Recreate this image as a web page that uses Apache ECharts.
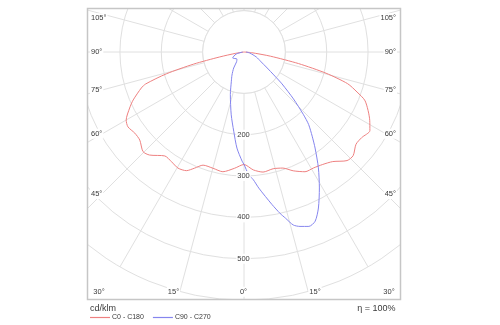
<!DOCTYPE html>
<html>
<head>
<meta charset="utf-8">
<script src="https://cdn.jsdelivr.net/npm/echarts@6/dist/echarts.min.js"></script>
<style>
  html, body { margin: 0; padding: 0; background: #fff; }
  #chart { width: 500px; height: 325px; }
</style>
</head>
<body>
<div id="chart"></div>
<script>
// Luminous intensity (cd/klm) against gamma angle (deg), one pair of arrays per C-plane half.
const gammaC0 = [0, 4.5, 9, 14, 18.5, 22.5, 27, 31, 35, 39, 43.5, 46.5, 50.5, 54, 58, 61.5, 68, 70.5, 73, 75.5, 78, 81, 85, 90];
const valueC0 = [272, 286, 294, 291, 296, 311, 325, 327, 332, 341, 362, 364, 351, 352, 359, 346, 316, 290, 262, 205, 135, 65, 18, 0];

const gammaC180 = [0, 4.6, 10, 14.9, 19.9, 23, 25.9, 29.6, 33.5, 37.3, 42.5, 45.4, 49.8, 53.4, 57.2, 60, 63.9, 66.6, 70.7, 72, 74.3, 76.5, 78.5, 81, 90];
const valueC180 = [272, 282, 294, 291, 291, 305, 319, 323, 318, 316, 338, 343, 330, 329, 334, 329, 308, 292, 263, 250, 195, 125, 60, 20, 0];

const gammaC90 = [0, 2.2, 4.2, 6.2, 10.4, 12.6, 14, 15.9, 17.8, 20.4, 22.8, 25.5, 29, 32.7, 36.5, 39, 41.7, 43.5, 46.5, 50, 52, 56, 60, 68, 80, 90];
const valueC90 = [272, 297, 310, 331, 375, 400, 414, 435, 443, 450, 444, 418, 376, 333, 289, 262, 235, 209, 165, 120, 95, 65, 48, 32, 14, 5];

const gammaC270 = [0, 1, 4.2, 7.4, 11.5, 17.8, 23.4, 27.5, 32.8, 37, 45, 62, 75, 90];
const valueC270 = [272, 264, 233, 193, 155, 108, 77, 63, 46, 30, 24, 31, 20, 3];

// Axis and annotation texts
const radiusTicks = [200, 300, 400, 500];
const sideAngleLabels = ['105°', '90°', '75°', '60°', '45°'];
const bottomAngleLabels = ['30°', '15°', '0°', '15°', '30°'];
const seriesNames = ['C0 - C180', 'C90 - C270'];
const unitLabel = 'cd/klm';
const efficiencyLabel = 'η = 100%';

// Layout of the frame and its edge labels (pixels)
const frame = { x: 87.5, y: 8.5, w: 313, h: 291 };
const sideLabelY = [18.3, 52.3, 90, 133.7, 194];
const bottomLabelX = [99, 173.5, 243.5, 315, 389];
const bottomLabelY = 291.7;
const innerRing = 100; // spokes start at this ring

const FONT = '"Liberation Sans", Arial, sans-serif';
const TEXT = '#3a3a3a';
const GRID = '#e0e0e0';
const COLORS = ['#ee8080', '#8585ee'];

// Join the two halves of a C-plane: left half runs 360-gamma, right half gamma.
function planeData(gLeft, vLeft, gRight, vRight) {
  const out = [];
  for (let i = gLeft.length - 1; i >= 1; i--) out.push([vLeft[i], 360 - gLeft[i]]);
  for (let i = 0; i < gRight.length; i++) out.push([vRight[i], gRight[i]]);
  return out;
}

const chart = echarts.init(document.getElementById('chart'), null, { renderer: 'canvas' });

const option = {
  animation: false,
  backgroundColor: '#fff',
  color: COLORS,
  polar: { center: [244, 52], radius: [0, 248.1] },
  angleAxis: {
    type: 'value', min: 0, max: 360, interval: 15,
    startAngle: 270, clockwise: false,
    axisLine: { show: false }, axisTick: { show: false }, axisLabel: { show: false },
    splitLine: { show: true, lineStyle: { color: GRID, width: 1 } }
  },
  radiusAxis: {
    type: 'value', min: 0, max: 600, interval: 100,
    axisLine: { show: false }, axisTick: { show: false }, axisLabel: { show: false },
    splitLine: { show: true, lineStyle: { color: GRID, width: 1 } }
  },
  legend: {
    left: 90, top: 314, itemWidth: 20, itemHeight: 1.2, itemGap: 9,
    padding: 0,
    textStyle: { fontSize: 7, color: TEXT, fontFamily: FONT, padding: [0, 0, 0, -3] },
    data: seriesNames.map(function (n, i) {
      return { name: n, icon: 'rect', itemStyle: { color: COLORS[i], borderWidth: 0 } };
    })
  },
  series: [
    {
      name: seriesNames[0], type: 'line', coordinateSystem: 'polar',
      data: planeData(gammaC180, valueC180, gammaC0, valueC0),
      symbol: 'none', smooth: 0.25, clip: false, z: 2,
      lineStyle: { color: COLORS[0], width: 1 }, itemStyle: { color: COLORS[0] }
    },
    {
      name: seriesNames[1], type: 'line', coordinateSystem: 'polar',
      data: planeData(gammaC270, valueC270, gammaC90, valueC90),
      symbol: 'none', smooth: 0.25, clip: false, z: 2,
      lineStyle: { color: COLORS[1], width: 1 }, itemStyle: { color: COLORS[1] }
    }
  ]
};
chart.setOption(option);

function label(text, x, y, align, size) {
  return {
    type: 'text', z: 10, x: x, y: y,
    style: {
      text: text, fill: TEXT, font: (size || 7.5) + 'px ' + FONT,
      align: align || 'center', verticalAlign: 'middle',
      backgroundColor: '#fff', padding: [1, 1]
    }
  };
}

const graphics = [];
// White surround so the grid is cut at the frame
graphics.push({ type: 'rect', z: 1, shape: { x: 0, y: 0, width: frame.x - 0.5, height: 325 }, style: { fill: '#fff' } });
graphics.push({ type: 'rect', z: 1, shape: { x: frame.x + frame.w + 0.5, y: 0, width: 100, height: 325 }, style: { fill: '#fff' } });
graphics.push({ type: 'rect', z: 1, shape: { x: 0, y: 0, width: 500, height: frame.y - 0.5 }, style: { fill: '#fff' } });
graphics.push({ type: 'rect', z: 1, shape: { x: 0, y: frame.y + frame.h + 0.5, width: 500, height: 40 }, style: { fill: '#fff' } });
graphics.push({ type: 'rect', z: 3, shape: { x: frame.x, y: frame.y, width: frame.w, height: frame.h },
  style: { fill: 'none', stroke: '#c6c6c6', lineWidth: 1.5 } });

// Clear the spokes inside the first ring
const c0 = chart.convertToPixel({ seriesIndex: 0 }, [0, 0]);
const c1 = chart.convertToPixel({ seriesIndex: 0 }, [innerRing, 0]);
const ringR = Math.hypot(c1[0] - c0[0], c1[1] - c0[1]);
graphics.push({ type: 'circle', z: 1, shape: { cx: c0[0], cy: c0[1], r: ringR },
  style: { fill: '#fff', stroke: GRID, lineWidth: 1 } });

// Radial value labels along the 0° direction
radiusTicks.forEach(function (v) {
  const p = chart.convertToPixel({ seriesIndex: 0 }, [v, 0]);
  graphics.push(label(String(v), p[0] - 0.5, p[1], 'center', 7.5));
});

// Gamma labels on the frame edges
sideAngleLabels.forEach(function (t, i) {
  graphics.push(label(t, frame.x + 2.5, sideLabelY[i], 'left'));
  graphics.push(label(t, frame.x + frame.w - 3.5, sideLabelY[i], 'right'));
});
bottomAngleLabels.forEach(function (t, i) {
  graphics.push(label(t, bottomLabelX[i], bottomLabelY, 'center'));
});

graphics.push({ type: 'text', z: 10, x: 90, y: 308.5,
  style: { text: unitLabel, fill: TEXT, font: '9px ' + FONT, align: 'left', verticalAlign: 'middle' } });
graphics.push({ type: 'text', z: 10, x: 395.5, y: 308.5,
  style: { text: efficiencyLabel, fill: TEXT, font: '9px ' + FONT, align: 'right', verticalAlign: 'middle' } });

chart.setOption({ graphic: graphics });
</script>
</body>
</html>
